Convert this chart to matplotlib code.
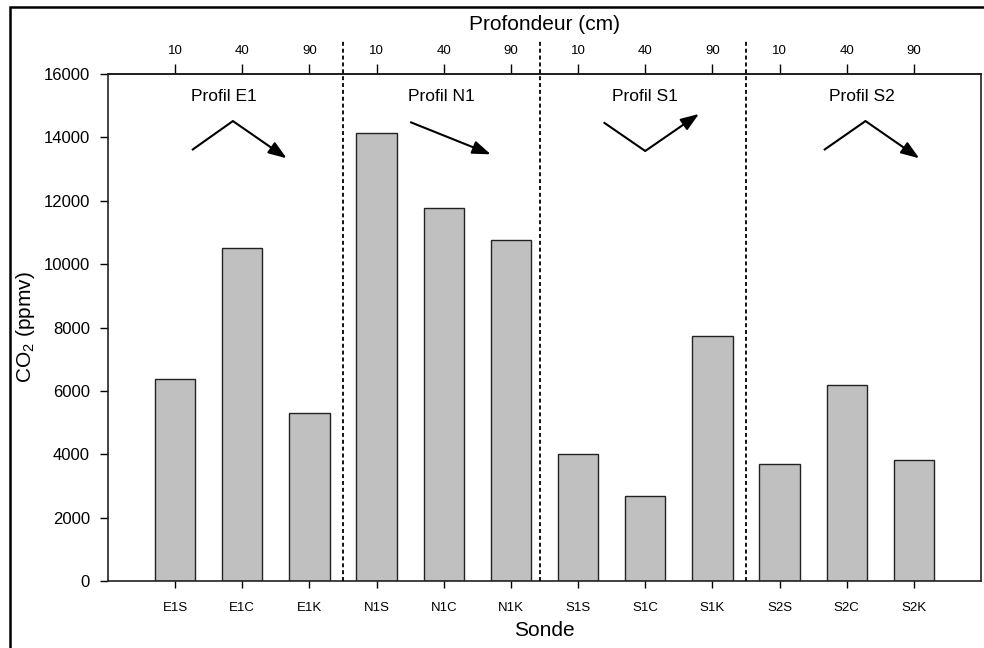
import matplotlib
matplotlib.use("Agg")
import matplotlib.pyplot as plt
from matplotlib.patches import Rectangle

plt.rcParams['font.family'] = ['Liberation Sans', 'DejaVu Sans']
plt.rcParams['mathtext.fontset'] = 'custom'
plt.rcParams['mathtext.rm'] = 'Liberation Sans'

# ---- data ----
sondes = ["E1S", "E1C", "E1K", "N1S", "N1C", "N1K", "S1S", "S1C", "S1K", "S2S", "S2C", "S2K"]
co2 = [6370, 10500, 5310, 14150, 11760, 10760, 4010, 2690, 7730, 3690, 6175, 3820]
depth_labels = ["10", "40", "90"] * 4
profiles = ["Profil E1", "Profil N1", "Profil S1", "Profil S2"]
profile_label_x = [1.73, 4.97, 8.0, 11.23]
separators = [3.5, 6.43, 9.5]
# trend sketches (x, y) for each profile: polyline points, last segment carries arrow
trends = [
    [(1.25, 13600), (1.86, 14515), (2.66, 13340)],
    [(4.51, 14475), (5.70, 13465)],
    [(7.38, 14475), (8.00, 13570), (8.80, 14740)],
    [(10.66, 13600), (11.28, 14515), (12.08, 13340)],
]

W, H = 984, 648
fig = plt.figure(figsize=(W / 100, H / 100), dpi=100)
ax = fig.add_axes([108 / W, 1 - 581 / H, (981 - 108) / W, (581 - 74) / H])

x = list(range(1, len(sondes) + 1))
ax.bar(x, co2, width=0.6, color="#c0c0c0", edgecolor="#222222", linewidth=1.0, zorder=2)

ax.set_xlim(0, 13)
ax.set_ylim(0, 16000)
ax.set_yticks(range(0, 16001, 2000))
ax.set_xticks(x)
ax.set_xticklabels(sondes, fontsize=9.5)
ax.tick_params(axis='y', labelsize=12, length=6, width=1, pad=7, direction='out')
ax.tick_params(axis='x', length=5, width=1, pad=10, direction='out')
for s in ax.spines.values():
    s.set_linewidth(1.2)
    s.set_color("#222222")

sec = ax.secondary_xaxis('top')
sec.set_xticks(x)
sec.set_xticklabels(depth_labels, fontsize=9.5)
sec.tick_params(length=7, width=1, pad=5, direction='out')
sec.spines['top'].set_linewidth(1.2)
sec.set_xlabel("Profondeur (cm)", fontsize=15, labelpad=11)

ax.set_xlabel("Sonde", fontsize=15, labelpad=5)
ax.set_ylabel(r"CO$_\mathregular{2}$ (ppmv)", fontsize=15, labelpad=5)

for sx in separators:
    ax.plot([sx, sx], [0, 17100], color="black", linewidth=1.3,
            linestyle=(0, (2.2, 1.6)), clip_on=False, zorder=3)

for px, name in zip(profile_label_x, profiles):
    ax.text(px, 15280, name, ha='center', va='center', fontsize=12.5)

for pts in trends:
    xs = [p[0] for p in pts[:-1]]
    ys = [p[1] for p in pts[:-1]]
    if len(xs) > 1:
        ax.plot(xs, ys, color="black", linewidth=1.5, solid_capstyle='butt')
    ax.annotate("", xy=pts[-1], xytext=pts[-2],
                arrowprops=dict(arrowstyle="-|>,head_length=0.55,head_width=0.2",
                                mutation_scale=20, lw=1.5, color="black",
                                shrinkA=0, shrinkB=0))

# figure frame (cropped on the right)
fig.add_artist(Rectangle((10 / W, -0.05), 1.2, (H - 7) / H + 0.05,
                         transform=fig.transFigure, fill=False,
                         edgecolor="black", linewidth=1.8, clip_on=False))

fig.savefig("out.png", dpi=100)
